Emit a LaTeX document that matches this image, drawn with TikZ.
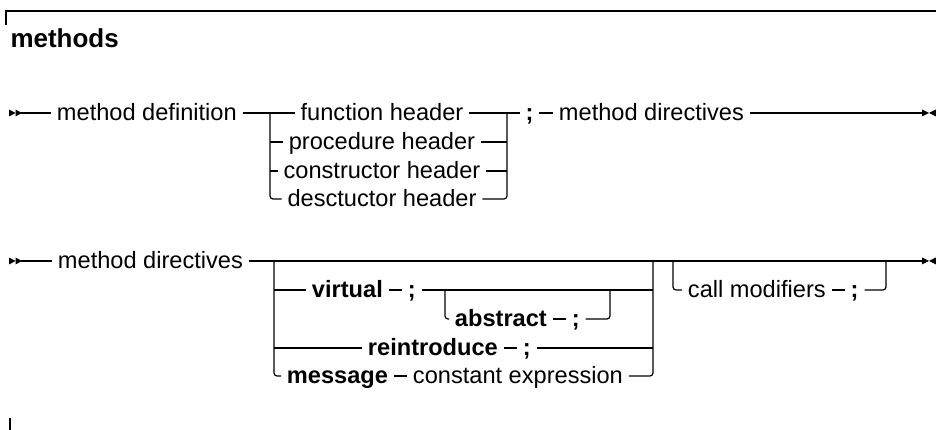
\documentclass[tikz,border=0pt]{standalone}
\usepackage{fontspec}
\setmainfont{Liberation Sans}
\usetikzlibrary{positioning}
\begin{document}
\begin{tikzpicture}[x=0.4237pt,y=-0.4237pt, line width=0.5pt,
  txt/.style={inner xsep=0pt, inner ysep=0pt, outer xsep=2.54pt, outer ysep=0pt,
    font=\fontsize{10pt}{12pt}\selectfont, text height=8pt, text depth=2pt},
  kw/.style={txt, font=\fontsize{10pt}{12pt}\selectfont\bfseries},
  conn/.style={rounded corners=1.3pt},
  startmark/.pic={\fill (0,-3.5) -- (6.5,0) -- (0,3.5) -- cycle; \fill (6.5,-3.5) -- (13,0) -- (6.5,3.5) -- cycle;},
  endmark/.pic={\fill (0,-3.5) -- (7,0) -- (0,3.5) -- cycle; \fill (14,-3.5) -- (7,0) -- (14,3.5) -- cycle;}]
\useasboundingbox (0,0) rectangle (936,430);
% frame marks
\draw (6,25) -- (6,11) -- (936,11);
\draw (10,418) -- (10,430);
\node[anchor=base west, inner sep=0pt, font=\fontsize{11pt}{13pt}\selectfont\bfseries] (title) at (10,47.5) {methods};

% ---------- row 1 ----------
\coordinate (s1) at (9,113);
\coordinate (s1a) at (21,113);
\node[txt, anchor=west] (md1) at (51,113) {method definition};
\coordinate (b1l) at (270,113);
\coordinate (b1r) at (507,113);
\node[txt] (fh) at (382,113) {function header};
\node[txt] (ph) at (382,142) {procedure header};
\node[txt] (ch) at (382,171) {constructor header};
\node[txt] (dh) at (382,199) {desctuctor header};
\node[kw] (sc1) at (529.5,113) {;};
\node[txt, anchor=west] (md1b) at (553,113) {method directives};
\coordinate (e1) at (922,113);

\pic at (s1) {startmark};
\draw (s1a) -- (md1.west);
\draw (md1.east) -- (fh.west);
\draw (fh.east) -- (sc1.west);
\draw (sc1.east) -- (md1b.west);
\draw (md1b.east) -- (e1);
\pic at (e1) {endmark};
\draw[conn] (b1l) |- (dh.west);
\draw (b1l |- ph) -- (ph.west);
\draw (b1l |- ch) -- (ch.west);
\draw[conn] (dh.east) -| (b1r);
\draw (ph.east) -- (b1r |- ph);
\draw (ch.east) -- (b1r |- ch);

% ---------- row 2 ----------
\coordinate (s2) at (9,261);
\coordinate (s2a) at (21,261);
\node[txt, anchor=west] (md2) at (52,261) {method directives};
\coordinate (b2l) at (274,261);
\coordinate (b2r) at (653,261);
\coordinate (c2l) at (673,261);
\coordinate (c2r) at (886,261);
\coordinate (e2) at (922,261);
\node[kw, anchor=west] (vir) at (306,290) {virtual};
\node[kw, right=5.5pt of vir] (sc2) {;};
\coordinate (a2l) at (445,290);
\coordinate (a2r) at (610,290);
\node[kw, anchor=west] (abs) at (449,319) {abstract};
\node[kw, right=5.5pt of abs] (sc3) {;};
\node[kw, anchor=west] (rei) at (362,348) {reintroduce};
\node[kw, right=5.5pt of rei] (sc4) {;};
\node[kw, anchor=west] (msg) at (281,376) {message};
\node[txt, right=5.5pt of msg] (ce) {constant expression};
\node[txt, anchor=west] (cm) at (682,290) {call modifiers};
\node[kw, right=5.5pt of cm] (sc5) {;};

\pic at (s2) {startmark};
\draw (s2a) -- (md2.west);
\draw (md2.east) -- (e2);
\pic at (e2) {endmark};
\draw[conn] (b2l) |- (msg.west);
\draw (b2l |- vir) -- (vir.west);
\draw (vir.east) -- (sc2.west);
\draw (sc2.east) -- (b2r |- vir);
\draw[conn] (a2l) |- (abs.west);
\draw (abs.east) -- (sc3.west);
\draw[conn] (sc3.east) -| (a2r);
\draw (b2l |- rei) -- (rei.west);
\draw (rei.east) -- (sc4.west);
\draw (sc4.east) -- (b2r |- rei);
\draw (msg.east) -- (ce.west);
\draw[conn] (ce.east) -| (b2r);
\draw[conn] (c2l) |- (cm.west);
\draw (cm.east) -- (sc5.west);
\draw[conn] (sc5.east) -| (c2r);
\end{tikzpicture}
\end{document}
